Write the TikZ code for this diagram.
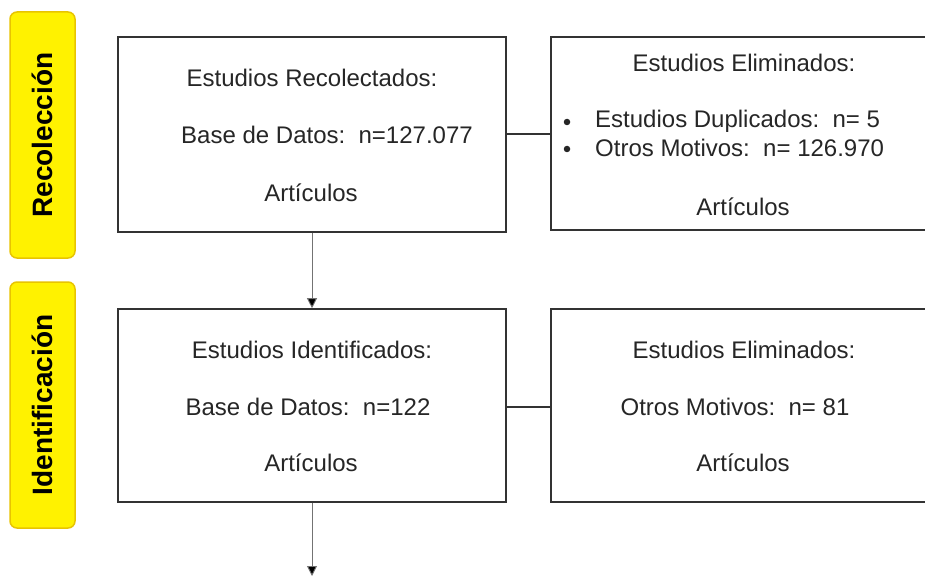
\documentclass[tikz,border=0pt]{standalone}
\usepackage{fontspec}
\setmainfont{Liberation Sans}
\usetikzlibrary{arrows.meta}
\definecolor{phaseyellow}{HTML}{FFF200}
\definecolor{phaseedge}{HTML}{E8C400}
\definecolor{boxedge}{HTML}{333333}
\tikzset{
  phase/.style={draw=phaseedge, line width=1.5pt, fill=phaseyellow, rounded corners=7pt,
    minimum width=65pt, minimum height=246pt, inner sep=0pt},
  phasetext/.style={rotate=90, font=\fontsize{28}{32}\selectfont\bfseries, inner sep=0pt},
  stagebox/.style={draw=boxedge, line width=1.6pt, inner sep=0pt},
  txt/.style={font=\fontsize{24}{28}\selectfont, inner sep=0pt, text=black!85},
  bulletdot/.style={circle, fill=black!85, minimum size=6.5pt, inner sep=0pt},
  link/.style={draw=boxedge, line width=1.4pt},
  flow/.style={draw=black!55, line width=0.9pt, -{Triangle[width=10pt,length=10pt,fill=black]}}
}
\begin{document}
\begin{tikzpicture}[x=1pt, y=-1pt]
\useasboundingbox (0,0) rectangle (925,577);
\fill[white] (0,0) rectangle (925,577);

% phase labels
\node[phase] (pA) at (42.5,135) {};
\node[phasetext] (pAt) at (pA.center) {Recolección};
\node[phase] (pB) at (42.5,405) {};
\node[phasetext] (pBt) at (pB.center) {Identificación};

% boxes
\node[stagebox, minimum width=388pt, minimum height=195pt] (b1) at (312,134.5) {};
\node[stagebox, minimum width=384pt, minimum height=193pt] (b2) at (743,133.5) {};
\node[stagebox, minimum width=388pt, minimum height=193pt] (b3) at (312,405.5) {};
\node[stagebox, minimum width=384pt, minimum height=193pt] (b4) at (743,405.5) {};

% box 1 text
\node[txt] (t1a) at (312,78) {Estudios Recolectados:};
\node[txt] (t1b) at (327,135) {Base de Datos:\ \ n=127.077};
\node[txt] (t1c) at (311,193) {Artículos};

% box 2 text
\node[txt] (t2a) at (744,63) {Estudios Eliminados:};
\node[bulletdot] (t2bb) at (567,122) {};
\node[txt, anchor=west] (t2b) at (595,121) {Estudios Duplicados:\ \ n= 5};
\node[bulletdot] (t2cb) at (567,149) {};
\node[txt, anchor=west] (t2c) at (595,148) {Otros Motivos:\ \ n= 126.970};
\node[txt] (t2d) at (743,207) {Artículos};

% box 3 text
\node[txt] (t3a) at (312,350) {Estudios Identificados:};
\node[txt] (t3b) at (308,407) {Base de Datos:\ \ n=122};
\node[txt] (t3c) at (311,463) {Artículos};

% box 4 text
\node[txt] (t4a) at (744,350) {Estudios Eliminados:};
\node[txt] (t4b) at (735,407) {Otros Motivos:\ \ n= 81};
\node[txt] (t4c) at (743,463) {Artículos};

% connectors
\draw[link] (b1.east |- 0,134) -- (b2.west |- 0,134);
\draw[link] (b3.east |- 0,407) -- (b4.west |- 0,407);
\coordinate (endflow) at (312,576);
\draw[flow] (b1.south) -- (b3.north);
\draw[flow] (b3.south) -- (endflow);
\end{tikzpicture}
\end{document}
